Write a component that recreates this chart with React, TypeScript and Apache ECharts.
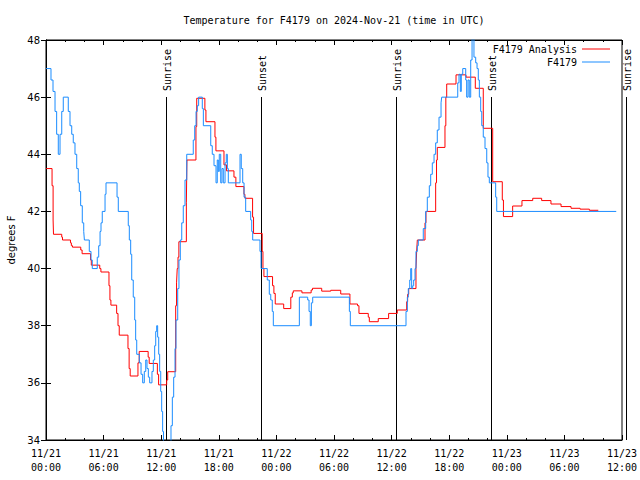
import React, { useEffect, useRef } from "react";
import * as echarts from "echarts";

const MONO = '"DejaVu Sans Mono", "Liberation Mono", monospace';
const SANS = '"DejaVu Sans", "Liberation Sans", sans-serif';

const TITLE = "Temperature for F4179 on 2024-Nov-21 (time in UTC)";
const Y_NAME = "degrees F";
const SERIES_NAMES = ["F4179 Analysis", "F4179"];

// x tick labels, one every 6 hours from 11/21 00:00 UTC
const X_TICK_LABELS = [
  "11/21\n00:00", "11/21\n06:00", "11/21\n12:00", "11/21\n18:00",
  "11/22\n00:00", "11/22\n06:00", "11/22\n12:00", "11/22\n18:00",
  "11/23\n00:00", "11/23\n06:00", "11/23\n12:00",
];

// hours since 11/21 00:00 UTC
const sunEventNames = ["Sunrise", "Sunset", "Sunrise", "Sunset", "Sunrise"];
const sunEventHours = [12.5, 22.43, 36.49, 46.39, 60.38];

// Analysis (red) – step values, each holds until the next time
const analysisHours = [
  0, 0.63, 0.74, 0.78, 1.64, 1.72, 2.55, 2.64, 2.76, 3.62, 3.76, 4.64, 4.72, 5.6, 5.72,
  6.56, 6.66, 6.76, 7.36, 7.5, 7.63, 8.54, 8.66, 8.77, 9.58, 9.71, 10.64, 10.75, 11.6, 11.73,
  12.57, 12.68, 13.51, 13.6, 13.67, 13.75, 13.84, 14.62, 14.68, 15.62, 15.7, 16.55, 16.66,
  17.6, 17.7, 18.54, 18.8, 19.58, 19.78, 20.62, 20.72, 21.52, 21.62, 22.52, 22.6, 22.7,
  23.6, 23.74, 23.88, 24.76, 25.5, 25.66, 25.76, 26.66, 27.62, 27.76, 28.72, 29.66, 30.7,
  31.66, 32.45, 32.6, 33.57, 33.68, 34.61, 35.69, 36.59, 37.57, 37.67, 37.78, 38.54, 38.61,
  38.68, 39.48, 39.58, 40.59, 40.68, 40.76, 41.56, 41.65, 41.74, 42.71, 43.75, 44.72, 45.55,
  46.53, 47.53, 47.65, 48.61, 49.58, 50.7, 51.63, 52.6, 53.65, 54.69, 55.63, 56.6, 57.53,
];
const analysisTemps = [
  43.5, 42.9, 41.7, 41.2, 41.1, 41.0, 40.9, 40.8, 40.75, 40.65, 40.52, 40.3, 40.12, 40.0, 39.88,
  39.4, 38.9, 38.72, 38.43, 38.0, 37.67, 37.2, 36.5, 36.24, 36.7, 37.1, 36.9, 36.68, 36.3, 35.93,
  36.1, 36.39, 38.7, 39.5, 40.0, 40.4, 40.94, 42.3, 43.8, 44.97, 45.96, 45.55, 45.14,
  44.6, 44.12, 43.63, 43.42, 43.2, 42.87, 42.6, 42.46, 41.8, 41.23, 40.6, 40.0, 39.72,
  39.4, 39.13, 38.76, 38.6, 39.0, 39.15, 39.22, 39.15, 39.25, 39.31, 39.21, 39.24, 39.11,
  38.76, 38.7, 38.43, 38.3, 38.14, 38.25, 38.43, 38.55, 38.84, 39.1, 39.3, 40.0, 40.6,
  41.0, 41.6, 42.0, 43.0, 43.8, 44.24, 45.0, 46.0, 46.46, 46.78, 46.7, 46.31, 44.91,
  43.04, 42.4, 41.82, 42.19, 42.38, 42.46, 42.38, 42.26, 42.17, 42.11, 42.08, 42.04, 42.04,
];

// Observations (blue) – step values
const obsHours = [
  0, 0.52, 0.73, 0.94, 1.11, 1.28, 1.46, 1.64, 1.8, 2.32, 2.5, 2.68, 2.84, 3.02, 3.2, 3.36,
  3.47, 3.61, 3.78, 3.93, 4.0, 4.51, 4.69, 4.82, 5.34, 5.49, 5.63, 5.73, 5.86, 6.15, 6.25,
  7.4, 7.53, 8.57, 8.68, 8.82, 8.93, 9.09, 9.24, 9.34, 9.45, 9.72, 9.9, 10.07, 10.24, 10.39,
  10.52, 10.66, 10.8, 11.04, 11.18, 11.32, 11.43, 11.53, 11.63, 11.74, 11.84, 11.95, 12.05,
  12.15, 12.24, 13.02, 13.16, 13.3, 13.44, 13.54, 13.72, 13.85, 13.99, 14.14, 14.3, 14.48,
  14.66, 15.34, 15.49, 15.63, 15.76, 15.9, 16.28, 16.39, 17.16, 17.32, 17.5, 17.71, 17.84,
  17.95, 18.05, 18.2, 18.33, 18.47, 18.65, 18.78, 18.89, 18.99, 20.21, 20.34, 20.49, 20.63,
  20.8, 21.32, 21.43, 21.53, 22.29, 22.4, 23.05, 23.26, 23.41, 23.57, 23.68, 26.39, 27.26,
  27.4, 27.53, 27.64, 27.78, 31.6, 31.7, 37.5, 37.64, 37.74, 37.89, 37.99, 38.09, 38.2, 38.3,
  38.44, 38.54, 38.68, 38.78, 39.3, 39.55, 39.72, 39.93, 40.07, 40.24, 40.42, 40.59, 40.76,
  40.94, 41.15, 41.22, 42.89, 43.02, 43.16, 43.26, 43.41, 43.72, 43.82, 43.96, 44.09, 44.24,
  44.38, 44.58, 44.76, 44.9, 45.03, 45.14, 45.28, 45.39, 45.55, 45.73, 45.91, 46.04, 46.18,
  46.84, 46.95, 59.4,
];
const obsTemps = [
  47.0, 46.6, 46.2, 45.5, 44.7, 44.0, 44.7, 45.5, 46.0, 45.5, 45.0, 44.7, 44.4, 44.0, 43.5, 43.0,
  42.7, 42.2, 41.6, 41.3, 41.0, 40.6, 40.3, 40.0, 40.4, 40.8, 41.3, 41.6, 42.0, 42.6, 43.0,
  42.5, 42.0, 41.5, 41.0, 40.5, 39.6, 39.0, 38.2, 37.5, 37.0, 36.7, 36.3, 36.0, 36.4, 36.8,
  36.5, 36.2, 36.0, 36.4, 36.8, 37.3, 37.8, 38.0, 37.6, 37.0, 36.4, 35.7, 35.0,
  34.3, 33.5, 34.5, 35.5, 36.2, 37.2, 38.2, 39.3, 40.3, 41.0, 41.6, 42.2, 43.1,
  44.0, 44.5, 45.0, 45.5, 45.7, 46.0, 45.6, 45.0, 44.3, 44.0, 43.6, 43.0, 43.8,
  43.4, 44.0, 43.0, 43.5, 43.0, 43.7, 44.0, 43.5, 43.0, 44.0, 43.5, 43.0, 42.5,
  42.0, 41.7, 41.3, 41.0, 40.6, 40.0, 39.6, 39.1, 38.9, 38.5, 38.0, 39.0, 38.9,
  38.5, 38.0, 38.8, 39.0, 38.5, 38.0, 38.5, 39.0, 39.3, 39.6, 40.0, 39.3, 39.4, 39.6,
  40.0, 40.6, 40.8, 41.0, 41.4, 42.0, 42.5, 42.9, 43.3, 43.7, 44.0, 44.4, 44.85,
  45.3, 45.8, 46.0, 46.5, 46.8, 46.2, 46.8, 47.0, 46.6, 46.0, 46.6, 46.0, 47.3,
  48.2, 47.4, 47.2, 47.0, 46.6, 46.0, 45.5, 45.0, 44.6, 44.2, 43.7, 43.2, 43.0,
  42.5, 42.0, 42.0,
];

const X_MIN = 0;
const X_MAX = 60;
const X_STEP = 6;
const Y_MIN = 34;
const Y_MAX = 48;
const Y_STEP = 2;
const SUN_LINE_TOP = 46;

const RED = "#ff0000";
const BLUE = "#1a8cff";

export default function App() {
  const ref = useRef<HTMLDivElement>(null);

  useEffect(() => {
    if (!ref.current) return;
    const chart = echarts.init(ref.current, null, { renderer: "svg" });

    const axisLine = { show: true, lineStyle: { color: "#000", width: 1 } };
    const tick = { show: true, inside: true, length: 5, lineStyle: { color: "#000", width: 1 } };
    const minor = { show: true, splitNumber: 3, length: 2, lineStyle: { color: "#000", width: 1 } };

    const xBase: any = {
      type: "value",
      min: X_MIN,
      max: X_MAX,
      interval: X_STEP,
      axisLine,
      axisTick: tick,
      minorTick: minor,
      splitLine: { show: false },
    };
    const yBase: any = {
      type: "value",
      min: Y_MIN,
      max: Y_MAX,
      interval: Y_STEP,
      axisLine,
      axisTick: tick,
      splitLine: { show: false },
    };

    const legendCommon: any = {
      right: 30,
      padding: 0,
      align: "right",
      icon: "rect",
      itemWidth: 28,
      itemHeight: 1,
      selectedMode: false,
      textStyle: { fontFamily: MONO, fontSize: 10, color: "#000" },
    };

    chart.setOption({
      animation: false,
      backgroundColor: "#fff",
      title: {
        text: TITLE,
        left: 334,
        top: 15,
        textAlign: "center",
        padding: 0,
        textStyle: { fontFamily: MONO, fontSize: 10, fontWeight: "normal", color: "#000" },
      },
      legend: [
        { ...legendCommon, data: [SERIES_NAMES[0]], top: 44 },
        { ...legendCommon, data: [SERIES_NAMES[1]], top: 57 },
      ],
      grid: {
        left: 46,
        right: 18,
        top: 40,
        bottom: 40,
        show: true,
        borderColor: "#000",
        borderWidth: 1,
        containLabel: false,
        outerBoundsMode: "none",
      },
      xAxis: [
        {
          ...xBase,
          position: "bottom",
          axisLabel: {
            formatter: (v: number) => X_TICK_LABELS[Math.round((v - X_MIN) / X_STEP)] ?? "",
            fontFamily: MONO,
            fontSize: 10,
            lineHeight: 14,
            color: "#000",
            margin: 6,
            showMinLabel: true,
            showMaxLabel: true,
            hideOverlap: false,
          },
        },
        { ...xBase, position: "top", axisLabel: { show: false } },
      ],
      yAxis: [
        {
          ...yBase,
          position: "left",
          name: Y_NAME,
          nameLocation: "middle",
          nameRotate: 90,
          nameGap: 30,
          nameTextStyle: { fontFamily: SANS, fontSize: 10, color: "#000" },
          axisLabel: { fontFamily: SANS, fontSize: 10, color: "#000", margin: 6 },
        },
        { ...yBase, position: "right", axisLabel: { show: false } },
      ],
      series: [
        {
          name: SERIES_NAMES[0],
          type: "line",
          step: "end",
          xAxisIndex: 0,
          yAxisIndex: 0,
          symbol: "none",
          showSymbol: false,
          clip: true,
          color: RED,
          itemStyle: { color: RED },
          lineStyle: { color: RED, width: 1 },
          data: analysisHours.map((h, i) => [h, analysisTemps[i]]),
        },
        {
          name: SERIES_NAMES[1],
          type: "line",
          step: "end",
          xAxisIndex: 0,
          yAxisIndex: 0,
          symbol: "none",
          showSymbol: false,
          clip: true,
          color: BLUE,
          itemStyle: { color: BLUE },
          lineStyle: { color: BLUE, width: 1 },
          data: obsHours.map((h, i) => [h, obsTemps[i]]),
        },
      ],
    });

    const graphics: any[] = [];
    sunEventHours.forEach((h, i) => {
      const px = chart.convertToPixel({ xAxisIndex: 0 }, h) as number;
      const yTop = chart.convertToPixel({ yAxisIndex: 0 }, SUN_LINE_TOP) as number;
      const yBot = chart.convertToPixel({ yAxisIndex: 0 }, Y_MIN) as number;
      const x = Math.round(px) + 0.5;
      graphics.push({
        type: "line",
        silent: true,
        shape: { x1: x, y1: Math.round(yTop), x2: x, y2: Math.round(yBot) },
        style: { stroke: "#000", lineWidth: 1 },
      });
      graphics.push({
        type: "text",
        silent: true,
        x: x + 1,
        y: Math.round(yTop) - 6,
        rotation: Math.PI / 2,
        style: {
          text: sunEventNames[i],
          fill: "#000",
          font: `10px ${MONO}`,
          align: "left",
          verticalAlign: "middle",
        },
      });
    });
    chart.setOption({ graphic: graphics });

    return () => chart.dispose();
  }, []);

  return (
    <div
      ref={ref}
      style={{ position: "fixed", left: 0, top: 0, width: 640, height: 480 }}
    />
  );
}
